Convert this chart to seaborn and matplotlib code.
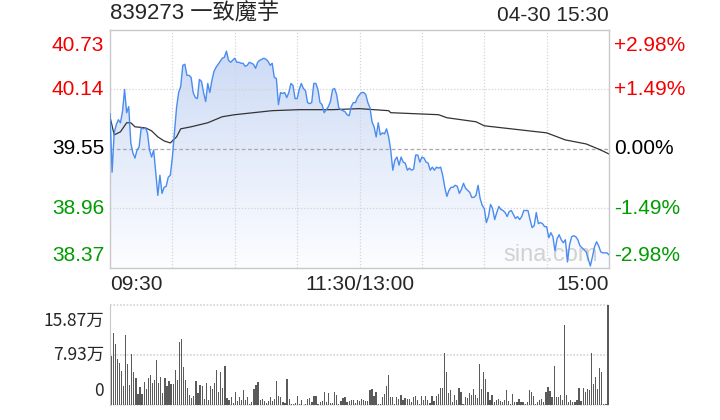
import numpy as np
import matplotlib.pyplot as plt
import seaborn as sns
from matplotlib import transforms
from matplotlib.colors import LinearSegmentedColormap

title = "839273 一致魔芋"
stamp = "04-30 15:30"
prev_close = 39.55
price_ticks = [40.73, 40.14, 39.55, 38.96, 38.37]
pct_labels = ["+2.98%", "+1.49%", "0.00%", "-1.49%", "-2.98%"]
vol_ticks = [15.87, 7.93, 0]
vol_labels = ["15.87万", "7.93万", "0"]
time_labels = ["09:30", "11:30/13:00", "15:00"]

# one price per minute, 09:30 -> 15:00 (241 points)
price = [
    39.90, 39.32, 39.71, 39.79, 39.84, 39.81, 39.92, 40.14, 39.91, 39.97,
    39.61, 39.51, 39.46, 39.54, 39.57, 39.76, 39.75, 39.76, 39.71, 39.54,
    39.47, 39.54, 39.31, 39.09, 39.29, 39.11, 39.17, 39.18, 39.27, 39.29,
    39.47, 39.72, 39.96, 40.11, 40.17, 40.38, 40.39, 40.28, 40.28, 40.26,
    40.11, 40.06, 40.05, 40.24, 40.22, 40.11, 40.02, 40.20, 40.11, 40.23,
    40.32, 40.36, 40.39, 40.42, 40.45, 40.46, 40.52, 40.43, 40.41,
    40.43, 40.45, 40.41, 40.41, 40.40,
    40.40, 40.37, 40.38, 40.41, 40.40, 40.39, 40.35, 40.41, 40.43, 40.44,
    40.45, 40.44, 40.42, 40.38, 40.40, 40.26, 40.25, 39.99, 40.11, 40.10,
    40.11, 40.06, 40.11, 40.20, 40.18, 40.05, 40.05,
    40.14, 40.20, 40.15, 40.13, 40.01, 40.00, 40.01, 40.20, 40.20, 40.14,
    40.01, 39.99, 39.91, 39.94, 39.97, 40.02, 40.14, 40.15, 40.09, 39.96,
    39.94, 39.93, 39.92,
    39.89, 39.88, 39.97, 40.01, 40.01, 40.06, 40.09, 40.11, 40.11, 40.09,
    40.01, 39.96, 39.82, 39.77, 39.67, 39.81, 39.69, 39.71, 39.70, 39.75,
    39.67, 39.54, 39.34, 39.44, 39.47, 39.39, 39.47, 39.42, 39.41, 39.34,
    39.36,
    39.34, 39.35, 39.49, 39.49, 39.42, 39.47, 39.46, 39.42, 39.41, 39.34,
    39.37, 39.34, 39.37, 39.36,
    39.37, 39.29, 39.17, 39.08, 39.14, 39.17, 39.17, 39.19, 39.18, 39.11,
    39.15, 39.21, 39.16, 39.14, 39.12, 39.07, 39.07, 39.09, 39.19, 39.06,
    38.99, 38.96, 38.82, 38.88, 39.00, 38.96, 38.85, 38.92, 38.98, 38.95,
    38.94, 38.92, 38.88, 38.93, 38.94, 38.90, 38.86, 38.88, 38.85, 38.88,
    38.94, 38.94,
    38.94, 38.85, 38.77, 38.79, 38.92, 38.81, 38.82, 38.81, 38.78, 38.78,
    38.67, 38.72, 38.68, 38.54, 38.66, 38.70, 38.65, 38.62, 38.65, 38.43,
    38.60, 38.68, 38.69,
    38.68, 38.65, 38.59, 38.57, 38.55, 38.53, 38.46, 38.39, 38.48, 38.58,
    38.63, 38.59, 38.53, 38.52, 38.52, 38.52, 38.50,
]

# average price line, sampled at these minutes
avg_minutes = [0, 2, 5, 6, 8, 10, 12, 17, 20, 23, 26, 29, 32, 34, 39, 47, 54, 60,
               69, 78, 91, 107, 120, 134, 135, 158, 162, 176, 180, 210, 219, 229,
               236, 239, 240]
avg_price = [39.87, 39.69, 39.72, 39.75, 39.81, 39.81, 39.77, 39.76, 39.73, 39.67,
             39.63, 39.61, 39.67, 39.75, 39.77, 39.81, 39.87, 39.89, 39.91, 39.93,
             39.94, 39.94, 39.95, 39.93, 39.91, 39.89, 39.86, 39.82, 39.78, 39.71,
             39.64, 39.60, 39.54, 39.51, 39.50]

# volume per minute, in 万
volume = [
    7.83, 11.43, 9.68, 7.30, 6.67, 5.40, 3.02, 11.11, 6.51, 3.17,
    8.09, 5.24, 4.28, 1.75, 2.86, 1.75, 3.65, 2.54, 4.28, 4.76,
    3.49, 3.97, 7.14, 3.49, 4.44, 1.90, 4.28, 3.02, 3.81, 3.33,
    3.33, 5.55, 3.97, 10.00, 10.47, 6.03, 3.97, 2.70, 1.59, 1.11,
    1.43, 3.81, 1.90, 3.17, 3.02, 0.95, 3.49, 0.79, 3.02, 2.54,
    3.49, 5.55, 2.06, 5.24, 2.70, 6.19, 1.11, 0.79, 1.27, 0.32,
    2.06,
    0.63, 1.27, 0.79, 2.38, 0.79, 1.27, 0.16, 0.48, 2.54, 3.17,
    3.65, 0.79, 0.95, 0.63, 0.32, 0.63, 1.27, 0.63, 0.95, 3.81,
    1.43, 1.27, 0.48, 0.32, 4.13, 0.95, 0.16, 0.16, 0.32, 1.43,
    0.16, 0.79, 0.00, 0.16, 0.95, 1.11, 0.48, 1.43, 1.43, 0.16,
    0.48, 0.63, 2.06, 0.48, 1.90, 0.32, 0.32, 2.06, 1.59, 0.16,
    0.63, 1.11, 1.27, 0.48, 0.63, 0.79, 0.79, 0.32, 0.79,
    0.63, 0.95, 0.79, 0.63, 0.63, 2.38, 2.54, 1.43, 2.06, 0.16,
    0.16, 1.27, 1.75, 3.02, 4.76, 1.27, 1.27, 0.16, 1.27, 0.95,
    1.59, 0.79, 1.11, 0.95, 0.95, 0.48, 1.27, 1.43, 0.79, 0.16,
    1.43, 0.79, 1.43, 0.79, 0.32, 1.43, 0.63, 1.43, 1.75, 2.70,
    2.70, 8.25, 5.24, 1.90, 2.38, 0.48, 1.59, 0.79, 2.70, 2.06,
    0.16, 1.27, 1.11, 1.90, 1.59, 2.54, 1.59, 1.11, 6.51, 2.54,
    5.24,
    4.20, 2.10, 0.85, 1.60, 0.50, 0.85, 0.95, 0.60, 0.50, 0.85,
    2.40, 0.70, 0.20, 1.80, 0.40, 0.50, 1.00, 0.50, 0.50, 0.10,
    0.40, 2.40, 2.00, 1.50, 0.20, 0.40, 0.85, 1.00, 0.50, 2.00,
    2.90, 2.30, 1.30, 6.20, 1.20, 1.20, 1.60, 0.85, 12.70, 1.60,
    0.50, 0.85, 0.40, 0.50, 0.85, 2.75, 0.70, 2.75, 2.00, 2.60,
    2.40, 8.30, 3.40, 4.50, 2.60, 5.90, 5.30, 0.10, 0.10, 15.87,
]

RED, GREEN, BLACK = "#f20000", "#009c00", "#000000"
tick_colors = [RED, RED, BLACK, GREEN, GREEN]
GRID = "#d4d4d4"

sns.set_style("white")
plt.rcParams['font.family'] = ['Liberation Sans', 'Noto Sans CJK SC', 'DejaVu Sans']
FS = 15

fig = plt.figure(figsize=(7.2, 4.2), dpi=100)
ax = fig.add_axes([0.1528, 0.3619, 0.6931, 0.5667])
axv = fig.add_axes([0.1528, 0.0357, 0.6931, 0.2381])

minutes = np.arange(len(price))
lo, hi = price_ticks[-1], price_ticks[0]

# gradient area under the price line
area = ax.fill_between(minutes, price, lo, color="none", lw=0)
grad = np.linspace(0, 1, 256).reshape(-1, 1)
cmap = LinearSegmentedColormap.from_list("g", ["#fcfdff", "#e3ebfa", "#c6d6f4"])
im = ax.imshow(grad, extent=[0, 240, lo, hi], origin="lower", aspect="auto",
               cmap=cmap, zorder=1)
im.set_clip_path(area.get_paths()[0], transform=ax.transData)

# grid (drawn over the fill)
for m in range(30, 240, 30):
    ax.axvline(m, color=GRID, lw=0.9, ls=(0, (1, 1.5)), zorder=1.2)
for v in price_ticks[1:-1]:
    if v == prev_close:
        ax.axhline(v, color="#a8a8a8", lw=0.9, ls=(0, (3, 2)), zorder=1.2)
    else:
        ax.axhline(v, color=GRID, lw=0.9, ls=(0, (1, 1.5)), zorder=1.2)

ax.text(0.882, 0.055, "sina.com", transform=ax.transAxes, fontsize=17,
        color="#d2d2d2", ha="center", va="center", zorder=1.5,
        family=["Liberation Sans"])

sns.lineplot(x=minutes, y=price, ax=ax, color="#4a8cf0", lw=1.0, zorder=3)
sns.lineplot(x=avg_minutes, y=avg_price, ax=ax, color="#333333", lw=0.9, zorder=2)

ax.set_xlim(0, 240)
ax.set_ylim(lo, hi)
ax.set_xticks([])
ax.set_yticks([])
ax.set_xlabel("")
ax.set_ylabel("")
for s in ax.spines.values():
    s.set_color("#c8c8c8")
    s.set_linewidth(1)

# price / percent labels
yt = transforms.blended_transform_factory(ax.transAxes, ax.transData)
n = len(price_ticks)
for i, (v, p, c) in enumerate(zip(price_ticks, pct_labels, tick_colors)):
    if i == 0:
        va, dy = "top", -6
    elif i == n - 1:
        va, dy = "bottom", 3
    else:
        va, dy = "center", 0
    tl = transforms.offset_copy(yt, fig=fig, x=-6, y=dy, units="dots")
    tr = transforms.offset_copy(yt, fig=fig, x=5, y=dy, units="dots")
    ax.text(0, v, f"{v:.2f}", transform=tl, ha="right", va=va, color=c, fontsize=FS)
    ax.text(1, v, p, transform=tr, ha="left", va=va, color=c, fontsize=FS)

# title row
tt = transforms.offset_copy(ax.transAxes, fig=fig, x=0, y=5, units="dots")
ax.text(0, 1, title, transform=tt, ha="left", va="bottom", fontsize=16)
ax.text(1, 1, stamp, transform=tt, ha="right", va="bottom", fontsize=FS)

# time labels
tb = transforms.offset_copy(ax.transAxes, fig=fig, x=0, y=-7, units="dots")
ax.text(0, 0, time_labels[0], transform=tb, ha="left", va="top", fontsize=FS)
ax.text(0.5, 0, time_labels[1], transform=tb, ha="center", va="top", fontsize=FS)
ax.text(1, 0, time_labels[2], transform=tb, ha="right", va="top", fontsize=FS)

# volume panel
axv.bar(minutes, volume, width=0.6, color="#5a5a5a", lw=0, zorder=2)
axv.set_xlim(-0.5, 240.5)
axv.set_ylim(0, vol_ticks[0])
axv.set_xticks([])
axv.set_yticks([])
for side in ["right", "top", "bottom"]:
    axv.spines[side].set_visible(False)
axv.spines["left"].set_color("#c8c8c8")
for v in vol_ticks:
    axv.axhline(v, color=GRID, lw=1.2, ls=(0, (1, 1)), zorder=0.5, clip_on=False)

vt = transforms.blended_transform_factory(axv.transAxes, axv.transData)
for i, (v, lab) in enumerate(zip(vol_ticks, vol_labels)):
    if i == 0:
        va, dy = "top", -7
    elif i == len(vol_ticks) - 1:
        va, dy = "bottom", 5
    else:
        va, dy = "center", 0
    tv = transforms.offset_copy(vt, fig=fig, x=-6, y=dy, units="dots")
    axv.text(0, v, lab, transform=tv, ha="right", va=va, fontsize=12.5,
             family=["Liberation Sans Narrow", "Noto Sans CJK SC", "DejaVu Sans"])

fig.savefig("out.png", dpi=100)
